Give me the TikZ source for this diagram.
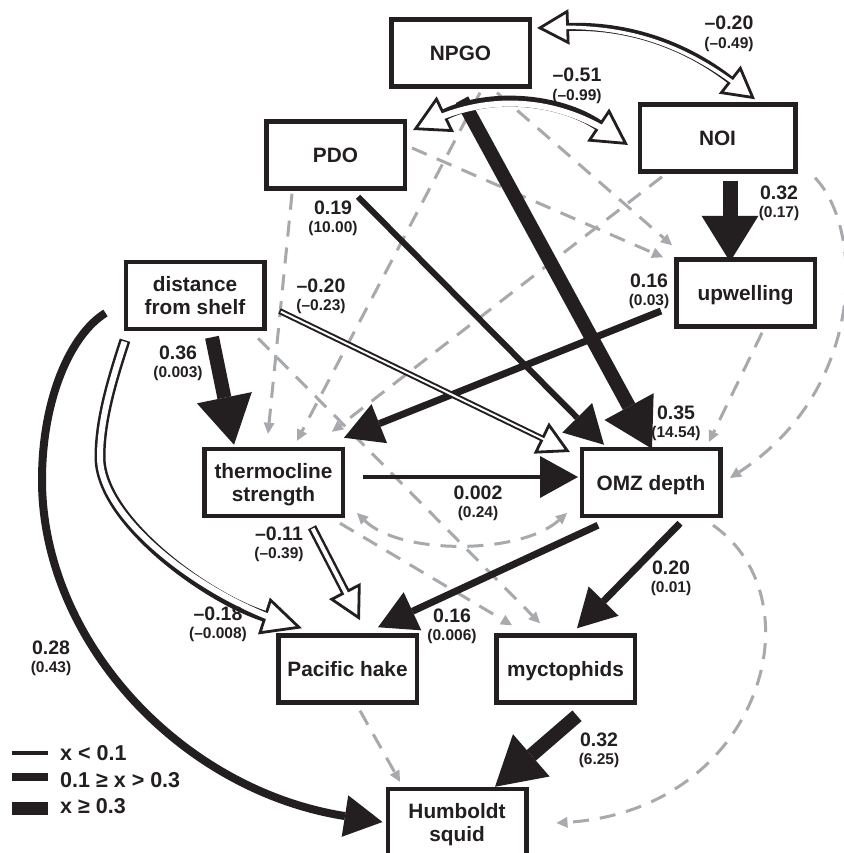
\documentclass[tikz,border=0pt]{standalone}
\usepackage{fontspec}
\setmainfont{Liberation Sans}
\usetikzlibrary{arrows.meta,calc}
\definecolor{ink}{HTML}{231F20}
\definecolor{dgrey}{HTML}{A7A9AC}
\newcommand\twolab[5]{%
  \node[labA] (#1a) at (#2,#3+7) {#4};
  \node[labB] (#1b) at (#2,#3+25.5) {#5};}
\begin{document}
\begin{tikzpicture}[x=1pt,y=-1pt,
  box/.style={draw=ink, line width=4.5pt, fill=white, minimum width=138.5pt, minimum height=67pt,
    inner sep=0pt, align=center, text=ink, font=\fontsize{20.8}{23}\selectfont\bfseries, text depth=0pt},
  one/.style={text height=15pt},
  labA/.style={anchor=base, inner sep=0pt, text=ink, font=\fontsize{19.5}{20}\selectfont\bfseries},
  labB/.style={anchor=base, inner sep=0pt, text=ink, font=\fontsize{15.5}{16}\selectfont\bfseries},
  legtxt/.style={anchor=base west, inner sep=0pt, text=ink, font=\fontsize{21.5}{22}\selectfont\bfseries},
  solidarrow/.style={draw=ink, line cap=butt},
  wthin/.style={line width=4pt},
  wmed/.style={line width=7pt},
  wthick/.style={line width=14pt},
  bhead/.style={-{Triangle[length=38pt,width=42pt,line width=0pt]}},
  bheadL/.style={-{Triangle[length=48pt,width=56pt,line width=0pt]}},
  dbl/.style n args={5}{draw=ink, line cap=butt, line width=#1,
    -{Triangle[length=#3,width=#4,line width=2.8pt,fill=white]},
    postaction={draw=white, line width=#2, -, shorten >=#5, shorten <=1.5pt}},
  dblbi/.style n args={5}{draw=ink, line cap=butt, line width=#1,
    {Triangle[length=#3,width=#4,line width=2.8pt,fill=white]}-{Triangle[length=#3,width=#4,line width=2.8pt,fill=white]},
    postaction={draw=white, line width=#2, -, shorten >=#5, shorten <=#5}},
  gdash/.style={draw=dgrey, line width=3pt, dash pattern=on 16pt off 11pt,
    -{Triangle[length=11pt,width=11pt,line width=0pt]}},
  gdashbi/.style={draw=dgrey, line width=3pt, dash pattern=on 16pt off 11pt,
    {Triangle[length=11pt,width=11pt,line width=0pt]}-{Triangle[length=11pt,width=11pt,line width=0pt]}},
]
\fill[white] (0,0) rectangle (843,853);
\useasboundingbox (0,0) rectangle (843,853);

% nodes
\node[box,one] (npgo) at (460.5,53) {NPGO};
\node[box,one,minimum width=155.5pt] (noi) at (717.5,138) {NOI};
\node[box,one] (pdo) at (335.5,155) {PDO};
\node[box] (dist) at (195,295.5) {distance\\from shelf};
\node[box,one] (upw) at (745.5,293) {upwelling};
\node[box] (therm) at (273.5,482.5) {thermocline\\strength};
\node[box,one] (omz) at (651,482.5) {OMZ depth};
\node[box,one] (hake) at (347.5,669) {Pacific hake};
\node[box,one] (myct) at (565.5,669) {myctophids};
\node[box] (squid) at (457,822.5) {Humboldt\\squid};

% grey dashed (non-significant) paths
\draw[gdash] ($(pdo.south)+(-43.5,3)$) -- ($(therm.north)+(-5.5,-13)$);
\draw[gdash] ($(npgo.south)+(19.5,4)$) -- ($(therm.north)+(23.5,-6)$);
\draw[gdash] ($(noi.south)+(-55.5,3)$) -- ($(therm.north)+(58.5,-15)$);
\draw[gdash] ($(npgo.south)+(36.5,4)$) -- ($(upw.north west)+(-2,-12)$);
\draw[gdash] ($(pdo.east)+(5,-7)$) -- ($(upw.north west)+(-11,0)$);
\draw[gdash] ($(upw.south)+(16.5,4)$) -- ($(omz.north)+(58,-5)$);
\draw[gdash] ($(noi.south east)+(17.5,4)$) .. controls (865,230) and (865,390) .. ($(omz.east)+(7.5,-4.5)$);
\draw[gdash] ($(dist.south)+(63,7)$) -- ($(myct.north)+(-25.5,-10)$);
\draw[gdash] ($(therm.south east)+(-5,5)$) -- ($(myct.north)+(-53.5,-8)$);
\draw[gdashbi] ($(therm.east)+(12,30.5)$) .. controls (400,555) and (520,555) .. ($(omz.west)+(-12.5,30.5)$);
\draw[gdash] ($(hake.south)+(12.5,6)$) -- ($(squid.north)+(-57,-5)$);
\draw[gdash] ($(omz.south)+(62,7)$) .. controls (820,600) and (760,810) .. ($(squid.east)+(28,0.5)$);

% black (positive) paths
\draw[solidarrow, wthick, bheadL] ($(npgo.south)+(1.5,11)$) -- ($(omz.north)+(1,2)$);
\draw[solidarrow, line width=6pt, bhead] ($(pdo.south)+(22.5,6)$) -- ($(omz.north)+(-47,-2)$);
\draw[solidarrow, wthick, bheadL] ($(dist.south)+(17,6)$) -- ($(therm.north)+(-39.5,-2)$);
\draw[solidarrow, line width=15pt, -{Triangle[length=46pt,width=57pt,line width=0pt]}] ($(noi.south)+(12.5,7)$) -- ($(upw.north)+(-15.5,4.5)$);
\draw[solidarrow, wmed, bhead] ($(upw.west)+(-13,18)$) -- ($(therm.north east)+(-1,-9)$);
\draw[solidarrow, wthin, bhead] ($(therm.east)+(18,-5.5)$) -- ($(omz.west)+(-1.5,-5.5)$);
\draw[solidarrow, wmed, bhead] ($(omz.south)+(-53,7)$) -- ($(hake.north)+(30.5,-6)$);
\draw[solidarrow, wmed, bhead] ($(omz.south)+(29,5)$) -- ($(myct.north)+(11.5,-5)$);
\draw[solidarrow, wthick, bheadL] ($(myct.south)+(11.5,11)$) -- ($(squid.north)+(38,0)$);
\draw[solidarrow, line width=8pt, bhead] ($(dist.west)+(-18,17.5)$) .. controls (70,335) and (42,400) .. (42,480)
   .. controls (42,640) and (180,790) .. ($(squid.west)+(-3,-0.5)$);

% double (negative) paths
\draw[dbl={6pt}{2pt}{32pt}{34pt}{14pt}] ($(dist.east)+(13,15.5)$) -- ($(omz.west)+(-9.5,-30.5)$);
\draw[dbl={9pt}{4pt}{33pt}{35pt}{14pt}] ($(therm.south)+(38.5,9)$) -- ($(hake.north)+(12.5,-13)$);
\draw[dbl={11pt}{6pt}{40pt}{38pt}{16pt}] ($(dist.south)+(-70,9)$) .. controls (112,380) and (100,420) .. (100,457)
   .. controls (100,520) and (205,597) .. ($(hake.north west)+(26,-5)$);
\draw[dblbi={8pt}{3.5pt}{32pt}{35pt}{14pt}] ($(npgo.east)+(5,-25)$) .. controls (627,25) and (684,44) .. ($(noi.north)+(37.5,-3)$);
\draw[dblbi={11pt}{6pt}{36pt}{39pt}{16pt}] ($(pdo.east)+(6,-25)$) .. controls (489,93) and (558,98) .. ($(noi.west)+(-9.5,7)$);

% labels
\twolab{la}{729}{23}{–0.20}{(–0.49)}
\twolab{lb}{577}{75}{–0.51}{(–0.99)}
\twolab{lc}{333}{207}{0.19}{(10.00)}
\twolab{ld}{779}{192}{0.32}{(0.17)}
\twolab{le}{649}{280}{0.16}{(0.03)}
\twolab{lf}{321}{285}{–0.20}{(–0.23)}
\twolab{lg}{178}{352}{0.36}{(0.003)}
\twolab{lh}{676}{412}{0.35}{(14.54)}
\twolab{li}{478}{492}{0.002}{(0.24)}
\twolab{lj}{279}{533}{–0.11}{(–0.39)}
\twolab{lk}{218}{613}{–0.18}{(–0.008)}
\twolab{ll}{51}{647}{0.28}{(0.43)}
\twolab{lm}{452}{615}{0.16}{(0.006)}
\twolab{ln}{671}{567}{0.20}{(0.01)}
\twolab{lo}{599}{739}{0.32}{(6.25)}

% legend
\draw[ink, line width=3.5pt] (12,753) -- (48,753);
\draw[ink, line width=8pt] (12,777) -- (48,777);
\draw[ink, line width=13pt] (12,808.5) -- (48,808.5);
\node[legtxt] (leg1) at (60,760) {x < 0.1};
\node[legtxt] (leg2) at (60,787) {0.1 ≥ x > 0.3};
\node[legtxt] (leg3) at (60,813) {x ≥ 0.3};
\end{tikzpicture}
\end{document}
